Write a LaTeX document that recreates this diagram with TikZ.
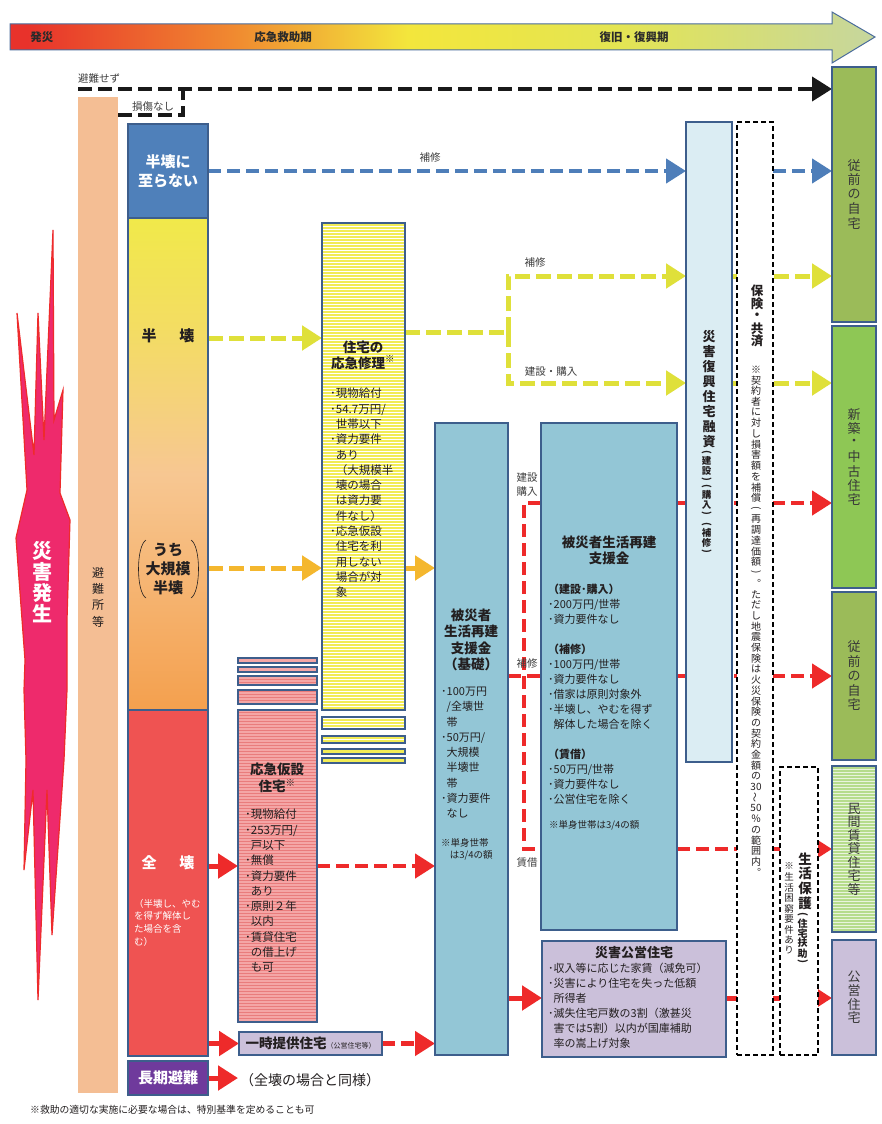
\documentclass[tikz,border=0pt]{standalone}
\usepackage{fontspec}
\setmainfont{Noto Sans CJK JP}
\usetikzlibrary{arrows.meta,patterns}
\definecolor{boxb}{HTML}{3D5E8C}
\definecolor{tlA}{HTML}{E8322B}
\definecolor{tlB}{HTML}{F08A30}
\definecolor{tlC}{HTML}{F3E63C}
\definecolor{tlD}{HTML}{E4E552}
\definecolor{tlE}{HTML}{C6D69E}
\definecolor{tlborder}{HTML}{4A6C9C}
\definecolor{tltext}{HTML}{2A2A2A}
\definecolor{hfA}{HTML}{F4A04E}
\definecolor{hfB}{HTML}{F7C792}
\definecolor{hfC}{HTML}{F3DD62}
\definecolor{hfD}{HTML}{F1E94A}
\definecolor{cbluec}{HTML}{4F80BA}
\definecolor{zenkaic}{HTML}{EF5352}
\definecolor{purplec}{HTML}{6F3A9C}
\definecolor{shelterc}{HTML}{F4BE94}
\definecolor{repairc}{HTML}{F2EC55}
\definecolor{pinkc}{HTML}{F4A6A6}
\definecolor{pinkline}{HTML}{E97C7C}
\definecolor{lavc}{HTML}{CBC0DA}
\definecolor{basicc}{HTML}{93C6D6}
\definecolor{loanc}{HTML}{DBEDF3}
\definecolor{olivec}{HTML}{9BBB59}
\definecolor{greenc}{HTML}{8EC755}
\definecolor{rentalc}{HTML}{B6DC8C}
\definecolor{explc}{HTML}{EE2A6C}
\definecolor{explb}{HTML}{EE2B2B}
\definecolor{arY}{HTML}{DFE03A}
\definecolor{arO}{HTML}{F4B72E}
\definecolor{arR}{HTML}{EE2A2A}
\definecolor{arB}{HTML}{4E7EB9}
\definecolor{darkt}{HTML}{231F20}
\definecolor{lblc}{HTML}{404040}
\definecolor{rtext}{HTML}{383838}
\pgfdeclarehorizontalshading{timeline}{100bp}{color(0bp)=(tlA); color(26bp)=(tlA); color(38bp)=(tlB); color(48bp)=(tlC); color(60bp)=(tlD); color(75bp)=(tlE); color(100bp)=(tlE)}
\pgfdeclareverticalshading{halfsh}{100bp}{color(0bp)=(hfA); color(25bp)=(hfA); color(49bp)=(hfB); color(64bp)=(hfC); color(75bp)=(hfD); color(100bp)=(hfD)}
\pgfdeclarelayer{bg}
\pgfsetlayers{bg,main}
\makeatletter
\newcommand\vC[2]{\vbox to #1{\vss\hbox to 1.3em{\hss#2\hss}\vss}}
\newcommand\vS[2]{\@tfor\vt@c:=#2\do{\vC{#1}{\vt@c}}}
\newcommand\vT[2]{\vbox{\offinterlineskip\vS{#1}{#2}}}
\makeatother
\newcommand\ind{\hspace*{0.5em}}
\newcommand\vlp{\rotatebox[origin=c]{-90}{(}}
\newcommand\vrp{\rotatebox[origin=c]{-90}{)}}
\begin{document}
\begin{tikzpicture}[x=1pt,y=-1pt,
  bx/.style={draw=boxb, line width=1.3pt, rectangle, inner sep=0pt, outer sep=0pt, anchor=north west},
  dbx/.style={draw=black, line width=1.3pt, dash pattern=on 5pt off 3pt, fill=white, rectangle, inner sep=0pt, outer sep=0pt, anchor=north west},
  tri/.style={-{Triangle[length=20pt,width=24pt]}},
  ydash/.style={draw=arY, line width=5pt, dash pattern=on 15pt off 6pt},
  odash/.style={draw=arO, line width=5pt, dash pattern=on 15pt off 6pt},
  rdash/.style={draw=arR, line width=4.5pt, dash pattern=on 13pt off 6pt},
  rsolid/.style={draw=arR, line width=5pt},
  bdash/.style={draw=arB, line width=4.5pt, dash pattern=on 13pt off 6pt},
  kdash/.style={draw=black!90, line width=4pt, dash pattern=on 14pt off 6pt},
  lbl/.style={text=lblc, font=\fontsize{10.5}{14}\selectfont, inner sep=0pt},
  lst/.style={anchor=north west, inner sep=0pt, align=left, text=darkt},
  ttl/.style={font=\bfseries\fontsize{13.5}{16}\selectfont, align=center, text=darkt, inner sep=0pt}]
\useasboundingbox (0,0) rectangle (881,1124);

% timeline
\path[shade, shading=timeline, draw=tlborder, line width=1pt] (10,24) -- (832,24) -- (832,12) -- (875,37) -- (832,63) -- (832,50) -- (10,50) -- cycle;
\node[font=\bfseries\fontsize{11.5}{11.5}\selectfont, text=tltext] (tl1) at (42,37) {発災};
\node[font=\bfseries\fontsize{11.5}{11.5}\selectfont, text=tltext] (tl2) at (283,37) {応急救助期};
\node[font=\bfseries\fontsize{11.5}{11.5}\selectfont, text=tltext] (tl3) at (634,37) {復旧・復興期};

% explosion
\path[fill=explc, draw=explb, line width=1.2pt] (27,490) -- (17,313) -- (34,455) -- (38,313) -- (44,440) -- (53,230) -- (54,420) -- (63,390) -- (60,493) -- (70,520) -- (67,620) -- (67,690) -- (64,760) -- (52,935) -- (47,790) -- (38,1000) -- (33,790) -- (24,870) -- (26,760) -- (24,690) -- (25,660) -- (16,538) -- cycle;
\node[font=\bfseries\fontsize{20}{20}\selectfont, text=white] (saigai) at (42,582) {\vT{21pt}{災害発生}};

% shelter column
\node[bx, fill=shelterc, draw=none, minimum width=40, minimum height=996] (shelter) at (78,97) {};
\node[font=\fontsize{12}{12}\selectfont, text=darkt] (sheltertxt) at (98,597) {\vT{16.3pt}{避難所等}};

% left damage column
\node[bx, fill=cbluec, minimum width=80, minimum height=94, font=\bfseries\fontsize{15}{19}\selectfont, text=white, align=center] (nohalf) at (128,124) {半壊に\\至らない};
\node[bx, shade, shading=halfsh, minimum width=80, minimum height=492] (half) at (128,218) {};
\node[bx, fill=zenkaic, minimum width=80, minimum height=346] (zenkai) at (128,710) {};
\node[bx, fill=purplec, minimum width=80, minimum height=34, font=\bfseries\fontsize{15}{15}\selectfont, text=white] (longterm) at (128,1061) {長期避難};
\node[font=\bfseries\fontsize{15}{15}\selectfont, text=darkt] (hanko) at (168,336) {半\hspace{23pt}壊};
\node[font=\bfseries\fontsize{15}{19}\selectfont, text=darkt, align=center] (daikibo) at (168,569) {うち\\大規模\\半壊};
\draw[line width=0.6pt, darkt] (146,540) .. controls (136,546) and (136,592) .. (146,598);
\draw[line width=0.6pt, darkt] (191,540) .. controls (201,546) and (201,592) .. (191,598);
\node[font=\bfseries\fontsize{15}{15}\selectfont, text=white] (zenkaitxt) at (168,863) {全\hspace{23pt}壊};
\node[lst, font=\fontsize{9.5}{12.6}\selectfont, text=white] (zenkainote) at (134,899) {（半壊し、やむ\\を得ず解体し\\た場合を含\\む）};

% emergency repair
\node[bx, preaction={fill=repairc}, pattern=horizontal lines, pattern color=white, minimum width=83, minimum height=487] (repair) at (322,223) {};
\node[bx, preaction={fill=repairc}, pattern=horizontal lines, pattern color=white, minimum width=83, minimum height=12] (rs1) at (322,717) {};
\node[bx, preaction={fill=repairc}, pattern=horizontal lines, pattern color=white, minimum width=83, minimum height=7] (rs2) at (322,736) {};
\node[bx, fill=repairc, minimum width=83, minimum height=5] (rs3) at (322,749) {};
\node[bx, fill=repairc, minimum width=83, minimum height=5] (rs4) at (322,758) {};
\node[ttl] (repairttl) at (363,355) {住宅の\\応急修理\textsuperscript{※}};
\node[lst, font=\fontsize{11.5}{15.3}\selectfont] (repairlist) at (330,388) {･現物給付\\･54.7万円/\\\ind 世帯以下\\･資力要件\\\ind あり\\\ind（大規模半\\\ind 壊の場合\\\ind は資力要\\\ind 件なし）\\･応急仮設\\\ind 住宅を利\\\ind 用しない\\\ind 場合が対\\\ind 象};

% temporary housing
\node[bx, preaction={fill=pinkc}, pattern=horizontal lines, pattern color=pinkline, minimum width=79, minimum height=312] (kasetsu) at (238,710) {};
\node[bx, fill=pinkc, minimum width=79, minimum height=5] (ps1) at (238,658) {};
\node[bx, fill=pinkc, minimum width=79, minimum height=5] (ps2) at (238,667) {};
\node[bx, preaction={fill=pinkc}, pattern=horizontal lines, pattern color=pinkline, minimum width=79, minimum height=9] (ps3) at (238,676) {};
\node[bx, preaction={fill=pinkc}, pattern=horizontal lines, pattern color=pinkline, minimum width=79, minimum height=14] (ps4) at (238,690) {};
\node[ttl, font=\bfseries\fontsize{13.5}{17}\selectfont] (kasetsuttl) at (277,778) {応急仮設\\住宅\textsuperscript{※}};
\node[lst, font=\fontsize{11.5}{15.3}\selectfont] (kasetsulist) at (245,809) {･現物給付\\･253万円/\\\ind 戸以下\\･無償\\･資力要件\\\ind あり\\･原則２年\\\ind 以内\\･賃貸住宅\\\ind の借上げ\\\ind も可};
\node[bx, fill=lavc, minimum width=143, minimum height=23, text=darkt] (temp) at (239,1032) {\bfseries\fontsize{13.5}{13.5}\selectfont 一時提供住宅\fontsize{7}{7}\selectfont\mdseries（公営住宅等）};

% support money
\node[bx, fill=basicc, minimum width=73, minimum height=632] (basic) at (435,423) {};
\node[ttl, font=\bfseries\fontsize{13.5}{16.3}\selectfont] (basicttl) at (471,640) {被災者\\生活再建\\支援金\\（基礎）};
\node[lst, font=\fontsize{11}{15.25}\selectfont] (basiclist) at (441,687) {･100万円\\\ind /全壊世\\\ind 帯\\･50万円/\\\ind 大規模\\\ind 半壊世\\\ind 帯\\･資力要件\\\ind なし};
\node[lst, font=\fontsize{9.5}{12.5}\selectfont] (basicnote) at (441,838) {※単身世帯\\\hspace*{0.9em}は3/4の額};

\node[bx, fill=basicc, minimum width=136, minimum height=507] (big) at (541,423) {};
\node[ttl] (bigttl) at (609,550) {被災者生活再建\\支援金};
\node[lst, font=\fontsize{11}{15}\selectfont] (biglist) at (548,584) {\textbf{（建設･購入）}\\･200万円/世帯\\･資力要件なし\\[15pt]\textbf{（補修）}\\･100万円/世帯\\･資力要件なし\\･借家は原則対象外\\･半壊し、やむを得ず\\\ind 解体した場合を除く\\[15pt]\textbf{（賃借）}\\･50万円/世帯\\･資力要件なし\\･公営住宅を除く};
\node[lst, font=\fontsize{9.5}{12}\selectfont] (bignote) at (549,820) {※単身世帯は3/4の額};

\node[bx, fill=lavc, minimum width=184, minimum height=116] (koei) at (542,941) {};
\node[ttl, font=\bfseries\fontsize{13}{13}\selectfont] (koeittl) at (634,953) {災害公営住宅};
\node[lst, font=\fontsize{11}{15}\selectfont] (koeilist) at (548,963) {･収入等に応じた家賃（減免可）\\･災害により住宅を失った低額\\\ind 所得者\\･滅失住宅戸数の3割（激甚災\\\ind 害では5割）以内が国庫補助\\\ind 率の嵩上げ対象};

% loan, insurance, livelihood
\node[bx, fill=loanc, minimum width=46, minimum height=640, text=darkt] (loan) at (686,122) {\vbox{\offinterlineskip\bfseries\fontsize{13}{13}\selectfont\vS{15pt}{災害復興住宅融資}\fontsize{9.5}{9.5}\selectfont\vC{7pt}{\vlp}\vS{10pt}{建設}\vC{7pt}{\vrp}\vC{7pt}{\vlp}\vS{10pt}{購入}\vC{7pt}{\vrp}\vC{4pt}{}\vC{7pt}{\vlp}\vS{10pt}{補修}\vC{7pt}{\vrp}}};
\node[dbx, minimum width=36, minimum height=933] (insur) at (737,122) {};
\node[font=\bfseries\fontsize{12.5}{12.5}\selectfont, text=darkt] (insurttl) at (757,316) {\vT{12.5pt}{保険・共済}};
\node[anchor=north, inner sep=0pt, font=\fontsize{10}{10}\selectfont, text=darkt] (insurnote) at (756,364) {\vT{10.7pt}{※契約者に対し損害額を補償{\vlp}再調達価額{\vrp}︒ただし地震保険は火災保険の契約金額の{30}{\rotatebox{90}{～}}{50}％の範囲内︒}};
\node[dbx, minimum width=38, minimum height=288] (seik) at (780,767) {};
\node[anchor=north, inner sep=0pt, text=darkt] (seiktxt) at (805,851) {\vbox{\offinterlineskip\bfseries\fontsize{13.5}{13.5}\selectfont\vS{15pt}{生活保護}\fontsize{10}{10}\selectfont\vC{7pt}{\vlp}\vS{10pt}{住宅扶助}\vC{7pt}{\vrp}}};
\node[anchor=north, inner sep=0pt, font=\fontsize{9.5}{9.5}\selectfont, text=darkt] (seiknote) at (789,861) {\vT{10.5pt}{※生活困窮要件あり}};

% outcomes
\node[bx, fill=olivec, minimum width=44, minimum height=255, font=\fontsize{13}{13}\selectfont, text=rtext] (home1) at (832,67) {\vT{14.5pt}{従前の自宅}};
\node[bx, fill=greenc, minimum width=44, minimum height=262, font=\fontsize{13}{13}\selectfont, text=rtext] (newhome) at (832,326) {\vT{14.2pt}{新築・中古住宅}};
\node[bx, fill=olivec, minimum width=44, minimum height=168, font=\fontsize{13}{13}\selectfont, text=rtext] (home2) at (832,592) {\vT{14.5pt}{従前の自宅}};
\node[bx, preaction={fill=rentalc}, pattern=horizontal lines, pattern color=white!70!rentalc, minimum width=44, minimum height=166, font=\fontsize{13}{13}\selectfont, text=rtext] (rental) at (832,766) {\vT{13.5pt}{民間賃貸住宅等}};
\node[bx, fill=lavc, minimum width=44, minimum height=115, font=\fontsize{13}{13}\selectfont, text=rtext] (public) at (832,940) {\vT{13.5pt}{公営住宅}};

% labels
\node[lbl] (lb1) at (99,79) {避難せず};
\node[lbl] (lb2) at (153,107) {損傷なし};
\node[lbl] (lb3) at (430,158) {補修};
\node[lbl] (lb4) at (535,263) {補修};
\node[lbl] (lb5) at (551,372) {建設・購入};
\node[lbl, align=center] (lb6) at (527,485) {建設\\購入};
\node[lbl] (lb7) at (527,664) {補修};
\node[lbl] (lb8) at (527,863) {賃借};
\node[anchor=west, inner sep=0pt, font=\fontsize{14}{14}\selectfont, text=darkt] (same) at (240,1080) {（全壊の場合と同様）};
\node[anchor=west, inner sep=0pt, font=\fontsize{9.8}{9.8}\selectfont, text=darkt] (footer) at (30,1110) {※救助の適切な実施に必要な場合は、特別基準を定めることも可};

% connectors
\coordinate (nosplit) at (183,89);
\coordinate (ysplit) at (508,332);
\coordinate (rtop) at (524,503);
\coordinate (rbot) at (524,849);
\coordinate (sameend) at (238,1078);
\begin{pgfonlayer}{bg}
\fill[white] (0,0) rectangle (881,1124);
\draw[kdash, tri] (shelter.north west |- nosplit) -- (home1.west |- nosplit);
\draw[kdash] (shelter.east |- 0,115) -| (nosplit);
\draw[bdash, tri] (nohalf.east) -- (loan.west |- nohalf.east);
\draw[bdash, tri] (insur.east |- nohalf.east) -- (home1.west |- nohalf.east);
\draw[ydash, tri] (half.east |- 0,338) -- (repair.west |- 0,338);
\draw[odash, tri] (half.east |- 0,568) -- (repair.west |- 0,568);
\draw[ydash] (repair.east |- ysplit) -- (ysplit);
\draw[ydash, tri] (ysplit) |- (loan.west |- 0,276);
\draw[ydash, tri] (ysplit) |- (loan.west |- 0,383);
\draw[ydash, tri] (loan.east |- 0,276) -- (home1.west |- 0,276);
\draw[ydash, tri] (loan.east |- 0,383) -- (newhome.west |- 0,383);
\draw[odash, tri] (repair.east |- 0,568) -- (basic.west |- 0,568);
\draw[rsolid, tri] (zenkai.east |- 0,866) -- (kasetsu.west |- 0,866);
\draw[rdash, tri] (kasetsu.east |- 0,866) -- (basic.west |- 0,866);
\draw[rsolid, tri] (zenkai.east |- temp.west) -- (temp.west);
\draw[rdash, tri] (temp.east) -- (basic.west |- temp.east);
\draw[rsolid, tri] (longterm.east) -- (sameend);
\draw[rsolid, tri] (basic.east |- 0,998) -- (koei.west |- 0,998);
\draw[rsolid, tri] (koei.east |- 0,998) -- (public.west |- 0,998);
\draw[rdash] (basic.east |- 0,676) -- (big.west |- 0,676);
\draw[rdash] (big.west |- rtop) -- (rtop) -- (rbot) -- (big.west |- rbot);
\draw[rdash, tri] (big.east |- rtop) -- (newhome.west |- rtop);
\draw[rdash, tri] (big.east |- 0,676) -- (home2.west |- 0,676);
\draw[rdash, tri] (big.east |- rbot) -- (rental.west |- rbot);
\end{pgfonlayer}
\end{tikzpicture}
\end{document}
